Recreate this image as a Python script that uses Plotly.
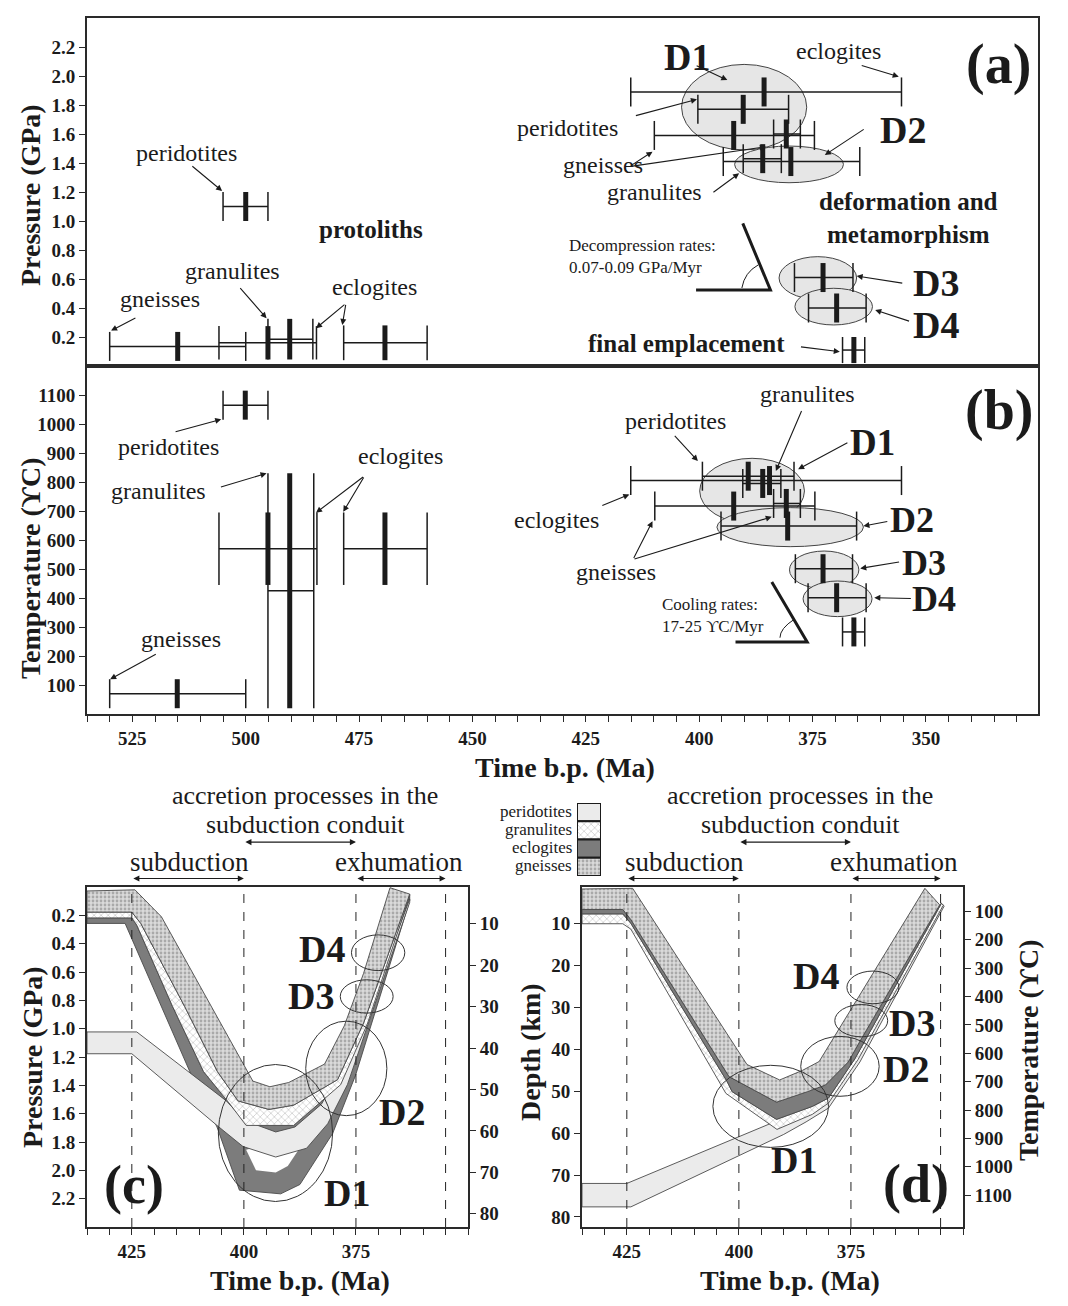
import plotly.graph_objects as go

# page is rendered with an 8px body margin: the figure is laid out in window pixels
OFF = 8
WIN_W, WIN_H = 1068, 1306
FW, FH = WIN_W - 2 * OFF, WIN_H - 2 * OFF
SERIF = "Liberation Serif"
INK = "#1b1b1b"


def X(px):
    return (px - OFF) / FW


def Y(py):
    return 1 - (py - OFF) / FH


# ======================= DATA =======================
# ---- panel (a): pressure (GPa) vs age (Ma) ----
a_rock = ["gneisses", "peridotites", "eclogites", "granulites", "eclogites",
          "eclogites", "peridotites", "gneisses", "gneisses", "granulites",
          "gneisses", "D3", "D4", "final"]
a_age = [515.0, 500.0, 495.1, 490.3, 469.3, 385.7, 390.3, 392.4, 380.8, 386.0, 379.8, 372.7, 369.7, 365.9]
a_age_old = [530.0, 505.0, 505.9, 495.1, 478.4, 415.1, 400.3, 409.9, 383.6, 390.3, 394.7, 379.0, 375.9, 368.4]
a_age_young = [500.0, 495.1, 484.4, 485.2, 460.0, 355.4, 380.3, 374.6, 377.7, 381.9, 364.6, 366.1, 363.2, 363.5]
a_pressure = [0.135, 1.10, 0.16, 0.185, 0.16, 1.89, 1.77, 1.59, 1.60, 1.43, 1.41, 0.61, 0.40, 0.11]
a_pressure_err = [0.10, 0.10, 0.115, 0.14, 0.12, 0.10, 0.10, 0.10, 0.10, 0.10, 0.10, 0.10, 0.10, 0.09]

# ---- panel (b): temperature (C) vs age (Ma) ----
b_rock = ["gneisses", "peridotites", "eclogites", "granulites", "eclogites",
          "eclogites", "peridotites", "gneisses", "gneisses", "granulites",
          "gneisses", "D3", "D4", "final"]
b_age = [515.1, 500.1, 495.1, 490.3, 469.3, 384.5, 389.2, 392.4, 380.8, 386.0, 380.5, 372.7, 369.7, 365.9]
b_age_old = [530.0, 505.0, 505.9, 495.1, 478.4, 415.1, 399.3, 409.8, 383.6, 390.4, 395.2, 378.8, 376.0, 368.4]
b_age_young = [500.0, 495.1, 484.3, 485.0, 460.0, 355.4, 379.1, 374.5, 377.7, 382.0, 365.3, 366.2, 363.2, 363.5]
b_temp = [70, 1065, 570, 425, 570, 805, 820, 717, 726, 795, 648, 501, 401, 283]
b_temp_err = [50, 50, 125, 405, 125, 50, 50, 50, 50, 50, 50, 50, 50, 50]

# ---- deformation stage envelopes ----
stages = ["D1", "D2", "D3", "D4"]
ea_old = [403.9, 392.2, 382.4, 378.9]
ea_young = [376.3, 368.2, 365.3, 361.8]
ea_lo = [1.49, 1.264, 0.46, 0.283]
ea_hi = [2.08, 1.517, 0.754, 0.536]
eb_old = [399.9, 396.1, 380.1, 377.1]
eb_young = [376.8, 363.8, 364.8, 361.9]
eb_lo = [656.6, 577, 432, 335.8]
eb_hi = [881.7, 711.7, 562, 458.6]
ec_old = [405.7, 386.2, 378.5, 376.0]
ec_young = [380.2, 368.1, 366.7, 364.1]
ec_lo = [1.253, 0.947, 0.655, 0.338]
ec_hi = [2.22, 1.614, 0.89, 0.59]
ed_old = [405.8, 386.2, 378.6, 375.9]
ed_young = [380.0, 368.7, 366.8, 364.3]
ed_lo = [43.8, 36.9, 29.3, 21.3]
ed_hi = [63.4, 51.2, 37.0, 29.1]

# ---- panel (c): P-t paths (GPa) ----
c_gne_top_t = [435, 424.3, 418.4, 398.0, 394.2, 390.0, 382.0, 377.6, 373.3, 367.4]
c_gne_top_p = [0.028, 0.02, 0.21, 1.37, 1.41, 1.38, 1.25, 0.98, 0.61, 0.005]
c_gne_bot_t = [435, 425.0, 423.0, 413.2, 405.9, 401.3, 394.4, 388.9, 379.1, 373.3, 363.0]
c_gne_bot_p = [0.177, 0.177, 0.257, 0.844, 1.303, 1.51, 1.57, 1.54, 1.36, 0.96, 0.05]
c_gra_bot_t = [435, 425.0, 423.9, 415.9, 409.0, 403.1, 399.5, 388.9, 378.4, 372.5, 363.0]
c_gra_bot_p = [0.218, 0.218, 0.269, 0.844, 1.303, 1.533, 1.683, 1.683, 1.395, 0.97, 0.062]
c_ecl_bot_t = [435, 426.5, 411.9, 406.0, 401.0, 391.8, 387.5, 380.2, 375.1, 363.0]
c_ecl_bot_p = [0.257, 0.257, 1.315, 1.694, 2.14, 2.166, 2.10, 1.74, 1.33, 0.097]
c_hole_t = [399.5, 397.3, 392.9, 390.2, 387.8, 392.9]
c_hole_p = [1.855, 2.0, 2.016, 1.97, 1.855, 1.80]
c_per_top_t = [435, 423.9, 403.9, 399.9, 392.9, 388.6, 382.7, 377.6, 372.5, 363.0]
c_per_top_p = [1.023, 1.023, 1.51, 1.648, 1.729, 1.694, 1.533, 1.257, 0.89, 0.085]
c_per_bot_t = [435, 425.0, 406.0, 400.2, 392.9, 386.0, 381.3, 376.9, 363.0]
c_per_bot_p = [1.177, 1.177, 1.683, 1.832, 1.906, 1.844, 1.671, 1.395, 0.108]

# ---- panel (d): depth-t paths (km) ----
d_gne_top_t = [435, 423.7, 398.2, 390.9, 385.8, 382.1, 358.5]
d_gne_top_d = [1.7, 1.55, 43.6, 47.3, 45.0, 42.9, 1.55]
d_gne_bot_t = [435, 425.9, 424.1, 402.2, 391.6, 384.7, 380.7, 375.6, 372.7, 355.2]
d_gne_bot_d = [6.6, 6.6, 9.0, 46.5, 52.6, 50.1, 48.5, 43.0, 37.5, 5.5]
d_ecl_bot_t = [435, 425.9, 424.1, 402.6, 401.5, 391.6, 383.6, 380.0, 374.1, 354.8]
d_ecl_bot_d = [7.65, 7.65, 9.9, 47.7, 50.1, 56.7, 53.6, 51.6, 42.2, 5.1]
d_gra_bot_t = [435, 425.9, 424.1, 402.9, 391.5, 383.6, 380.0, 373.4, 354.4]
d_gra_bot_d = [10.0, 10.0, 11.3, 50.5, 59.1, 55.5, 52.8, 42.4, 5.6]
d_per_top_t = [435, 425.0, 392.5, 385.0, 380.0, 373.4, 354.6]
d_per_top_d = [72.0, 72.0, 57.5, 55.0, 52.2, 42.0, 5.3]
d_per_bot_t = [435, 424.1, 390.0, 385.0, 380.0, 373.0, 354.2]
d_per_bot_d = [77.6, 77.6, 60.3, 57.3, 54.0, 43.0, 5.8]

# ---- tectonic phases ----
phase_names = ["subduction", "accretion", "exhumation"]
phase_start = [425, 400, 375]
phase_end = [400, 375, 355]
phase_bounds = [425, 400, 375, 355]

legend_rocks = ["peridotites", "granulites", "eclogites", "gneisses"]

# ======================= STYLES =======================
STYLE = {
    "peridotites": dict(fillcolor="#ebebeb"),
    "granulites": dict(fillcolor="#ffffff",
                       fillpattern=dict(shape="x", fgcolor="#8f8f8f", bgcolor="#ffffff", size=5, solidity=0.25)),
    "eclogites": dict(fillcolor="#7c7c7c"),
    "gneisses": dict(fillcolor="#d8d8d8",
                     fillpattern=dict(shape=".", fgcolor="#777777", bgcolor="#dadada", size=4, solidity=0.38)),
    "hole": dict(fillcolor="#ffffff"),
}

traces = []


def bars(t, told, tyoung, v, err, xa, ya):
    xs, ys, xk, yk = [], [], [], []
    for i in range(len(t)):
        lo, hi = v[i] - err[i], v[i] + err[i]
        xs += [told[i], tyoung[i], None, told[i], told[i], None, tyoung[i], tyoung[i], None]
        ys += [v[i], v[i], None, lo, hi, None, lo, hi, None]
        xk += [t[i], t[i], None]
        yk += [lo, hi, None]
    traces.append(go.Scatter(x=xs, y=ys, mode="lines", line=dict(color=INK, width=1.5),
                             xaxis=xa, yaxis=ya, hoverinfo="skip", showlegend=False))
    traces.append(go.Scatter(x=xk, y=yk, mode="lines", line=dict(color=INK, width=5),
                             xaxis=xa, yaxis=ya, hoverinfo="skip", showlegend=False))


def band(tt, vt, tb, vb, rock, xa, ya, lw=0.9):
    x = list(tt) + list(reversed(tb)) + [tt[0]]
    y = list(vt) + list(reversed(vb)) + [vt[0]]
    traces.append(go.Scatter(x=x, y=y, mode="lines", fill="toself",
                             line=dict(color="#4a4a4a", width=lw), xaxis=xa, yaxis=ya,
                             hoverinfo="skip", showlegend=False, **STYLE[rock]))


def poly(tx, vy, rock, xa, ya):
    traces.append(go.Scatter(x=list(tx) + [tx[0]], y=list(vy) + [vy[0]], mode="lines", fill="toself",
                             line=dict(color="#ffffff", width=0), xaxis=xa, yaxis=ya,
                             hoverinfo="skip", showlegend=False, **STYLE[rock]))


bars(a_age, a_age_old, a_age_young, a_pressure, a_pressure_err, "x", "y")
bars(b_age, b_age_old, b_age_young, b_temp, b_temp_err, "x2", "y2")

# panel (c)
band(c_gra_bot_t, c_gra_bot_p, c_ecl_bot_t, c_ecl_bot_p, "eclogites", "x3", "y3")
poly(c_hole_t, c_hole_p, "hole", "x3", "y3")
band(c_per_top_t, c_per_top_p, c_per_bot_t, c_per_bot_p, "peridotites", "x3", "y3")
band(c_gne_bot_t, c_gne_bot_p, c_gra_bot_t, c_gra_bot_p, "granulites", "x3", "y3")
band(c_gne_top_t, c_gne_top_p, c_gne_bot_t, c_gne_bot_p, "gneisses", "x3", "y3")
# panel (d)
band(d_per_top_t, d_per_top_d, d_per_bot_t, d_per_bot_d, "peridotites", "x4", "y4")
band(d_ecl_bot_t, d_ecl_bot_d, d_gra_bot_t, d_gra_bot_d, "granulites", "x4", "y4")
band(d_gne_bot_t, d_gne_bot_d, d_ecl_bot_t, d_ecl_bot_d, "eclogites", "x4", "y4")
band(d_gne_top_t, d_gne_top_d, d_gne_bot_t, d_gne_bot_d, "gneisses", "x4", "y4")

# empty traces so that the secondary (right-hand) axes are drawn
traces.append(go.Scatter(x=[None], y=[None], xaxis="x3", yaxis="y5", showlegend=False, hoverinfo="skip"))
traces.append(go.Scatter(x=[None], y=[None], xaxis="x4", yaxis="y6", showlegend=False, hoverinfo="skip"))

# legend boxes
for i, rock in enumerate(legend_rocks):
    r = len(legend_rocks) - 1 - i
    traces.append(go.Scatter(x=[0, 1, 1, 0, 0], y=[r, r, r + 1, r + 1, r], mode="lines", fill="toself",
                             line=dict(color=INK, width=2), xaxis="x5", yaxis="y7",
                             hoverinfo="skip", showlegend=False, **STYLE[rock]))

fig = go.Figure(traces)

# ======================= SHAPES =======================
shapes = []
for i in range(4):
    shapes.append(dict(type="circle", xref="x", yref="y", x0=ea_old[i], x1=ea_young[i], y0=ea_lo[i], y1=ea_hi[i],
                       fillcolor="#e6e6e6", line=dict(color="#444", width=1), layer="below"))
    shapes.append(dict(type="circle", xref="x2", yref="y2", x0=eb_old[i], x1=eb_young[i], y0=eb_lo[i], y1=eb_hi[i],
                       fillcolor="#e6e6e6", line=dict(color="#444", width=1), layer="below"))
    shapes.append(dict(type="circle", xref="x3", yref="y3", x0=ec_old[i], x1=ec_young[i], y0=ec_lo[i], y1=ec_hi[i],
                       line=dict(color="#333", width=1), layer="above"))
    shapes.append(dict(type="circle", xref="x4", yref="y4", x0=ed_old[i], x1=ed_young[i], y0=ed_lo[i], y1=ed_hi[i],
                       line=dict(color="#333", width=1), layer="above"))
for t in phase_bounds:
    for xa, ya in (("x3", "y3"), ("x4", "y4")):
        shapes.append(dict(type="line", xref=xa, yref=ya + " domain", x0=t, x1=t, y0=0, y1=1,
                           line=dict(color="#222", width=1, dash="dash"), layer="above"))
# rate glyphs
shapes.append(dict(type="path", xref="x", yref="y", path="M 400.7,0.524 L 384.3,0.524 L 390.4,0.984",
                   line=dict(color=INK, width=3)))
shapes.append(dict(type="path", xref="x", yref="y", path="M 390.6,0.538 Q 390.0,0.646 387.0,0.697",
                   line=dict(color=INK, width=1)))
shapes.append(dict(type="path", xref="x2", yref="y2", path="M 392.0,248 L 376.2,248 L 384.0,455",
                   line=dict(color=INK, width=3)))
shapes.append(dict(type="path", xref="x2", yref="y2", path="M 382.2,263 Q 382.2,295 379.0,327",
                   line=dict(color=INK, width=1)))

# ======================= ANNOTATIONS =======================
ann = []


def txt(text, x, y, xref, yref, size, bold=False, **kw):
    d = dict(text=("<b>%s</b>" % text) if bold else text, x=x, y=y, xref=xref, yref=yref,
             showarrow=False, xanchor="center", yanchor="middle",
             font=dict(family=SERIF, size=size, color=INK))
    d.update(kw)
    ann.append(d)


def arr(tail, head, xref, yref):
    ann.append(dict(x=head[0], y=head[1], ax=tail[0], ay=tail[1], xref=xref, yref=yref,
                    axref=xref, ayref=yref, text="", showarrow=True, arrowhead=2,
                    arrowsize=1.1, arrowwidth=1.1, arrowcolor=INK))


# panel (a) labels
for s, t, v, sz, b in [
    ("D1", 402.6, 2.13, 38, True), ("eclogites", 369.3, 2.17, 24, False), ("(a)", 334.0, 2.08, 56, True),
    ("peridotites", 429.0, 1.64, 24, False), ("gneisses", 421.2, 1.386, 24, False),
    ("granulites", 409.8, 1.2, 24, False), ("D2", 355.0, 1.63, 38, True),
    ("deformation and<br>metamorphism", 353.9, 1.024, 25, True),
    ("D3", 347.7, 0.57, 38, True), ("D4", 347.7, 0.283, 38, True),
    ("final emplacement", 402.9, 0.152, 25, True), ("protoliths", 472.4, 0.94, 25, True),
    ("peridotites", 513.0, 1.469, 24, False), ("granulites", 503.0, 0.655, 24, False),
    ("gneisses", 518.8, 0.462, 24, False), ("eclogites", 471.5, 0.545, 24, False)]:
    txt(s, t, v, "x", "y", sz, b)
txt("Decompression rates:<br>0.07-0.09 GPa/Myr", 429.2, 0.752, "x", "y", 17, xanchor="left", align="left")

for tail, head in [((512.1, 1.386), (505.2, 1.207)), ((524.0, 0.336), (529.7, 0.244)),
                   ((501.5, 0.547), (495.4, 0.329)), ((477.9, 0.432), (484.5, 0.26)),
                   ((477.9, 0.432), (478.7, 0.283)), ((400.9, 2.076), (393.8, 1.972)),
                   ((364.5, 2.076), (356.0, 1.995)), ((414.3, 1.724), (400.5, 1.839)),
                   ((415.4, 1.375), (410.3, 1.478)), ((415.4, 1.375), (385.3, 1.512)),
                   ((397.2, 1.191), (391.2, 1.329)), ((363.4, 1.639), (372.3, 1.455)),
                   ((354.9, 0.57), (365.3, 0.621)), ((353.4, 0.306), (361.2, 0.386)),
                   ((377.9, 0.133), (369.0, 0.099))]:
    arr(tail, head, "x", "y")

# panel (b) labels
for s, t, v, sz, b in [
    ("(b)", 334.0, 1045, 56, True), ("granulites", 376.2, 1102, 24, False),
    ("peridotites", 405.3, 1010, 24, False), ("D1", 361.9, 936, 37, True),
    ("eclogites", 431.4, 668, 24, False), ("gneisses", 418.3, 490, 24, False),
    ("D2", 353.0, 668, 36, True), ("D3", 350.5, 520, 36, True), ("D4", 348.2, 398, 36, True),
    ("peridotites", 517.0, 922, 24, False), ("granulites", 519.2, 768, 24, False),
    ("eclogites", 465.8, 889, 24, False), ("gneisses", 514.3, 257, 24, False)]:
    txt(s, t, v, "x2", "y2", sz, b)
txt("Cooling rates:<br>17-25 ϒC/Myr", 408.7, 340, "x2", "y2", 17, xanchor="left", align="left")

for tail, head in [((515.8, 972), (505.4, 1016)), ((505.8, 781), (495.4, 830)),
                   ((473.8, 821), (484.5, 694)), ((473.8, 821), (478.5, 697)),
                   ((519.5, 209), (529.9, 120)), ((367.0, 938), (378.2, 844)),
                   ((377.3, 1050), (383.1, 838)), ((405.7, 964), (400.3, 872)),
                   ((421.7, 717), (415.4, 757)), ((414.6, 533), (410.3, 665)),
                   ((414.6, 533), (384.0, 680)), ((358.2, 665), (363.8, 648)),
                   ((355.6, 525), (364.5, 502)), ((353.0, 398), (361.4, 401))]:
    arr(tail, head, "x2", "y2")

# panels (c),(d) labels
for s, t, v, sz, b in [("D4", 382.5, 0.44, 38, True), ("D3", 385.1, 0.77, 38, True),
                       ("D2", 364.7, 1.59, 38, True), ("D1", 377.1, 2.16, 38, True),
                       ("(c)", 424.6, 2.10, 54, True)]:
    txt(s, t, v, "x3", "y3", sz, b)
for s, t, v, sz, b in [("D4", 382.7, 22.5, 38, True), ("D3", 361.4, 33.7, 38, True),
                       ("D2", 362.8, 44.7, 38, True), ("D1", 387.8, 66.4, 38, True),
                       ("(d)", 360.5, 72.1, 54, True)]:
    txt(s, t, v, "x4", "y4", sz, b)

for xa, ya in (("x3", "y3"), ("x4", "y4")):
    dom = ya + " domain"
    txt("accretion processes in the", 386.3, 1.27, xa, dom, 26)
    txt("subduction conduit", 386.3, 1.185, xa, dom, 26)
    txt("subduction", 412.2, 1.073, xa, dom, 27)
    txt("exhumation", 365.4, 1.073, xa, dom, 27)
    for i, name in enumerate(phase_names):
        yy = 1.132 if name == "accretion" else 1.025
        ann.append(dict(x=phase_end[i], y=yy, ax=phase_start[i], ay=yy, xref=xa, yref=dom,
                        axref=xa, ayref=dom, text="", showarrow=True, arrowhead=2, startarrowhead=2,
                        arrowside="end+start", arrowsize=1.1, arrowwidth=1.1, arrowcolor=INK))

# legend labels
for i, rock in enumerate(legend_rocks):
    txt(rock, X(574), Y(811 + 18.3 * i), "paper", "paper", 17, xanchor="right")

# axis titles
txt("Pressure (GPa)", X(30), Y(195), "paper", "paper", 28, True, textangle=-90)
txt("Temperature (ϒC)", X(30), Y(568), "paper", "paper", 28, True, textangle=-90)
txt("Time b.p. (Ma)", X(565), Y(767), "paper", "paper", 28, True)
txt("Pressure (GPa)", X(32), Y(1057), "paper", "paper", 28, True, textangle=-90)
txt("Depth (km)", X(530), Y(1052), "paper", "paper", 28, True, textangle=-90)
txt("Temperature (ϒC)", X(1028), Y(1050), "paper", "paper", 28, True, textangle=-90)
txt("Time b.p. (Ma)", X(300), Y(1280), "paper", "paper", 28, True)
txt("Time b.p. (Ma)", X(790), Y(1280), "paper", "paper", 28, True)

# ======================= AXES =======================
TICKF = dict(family=SERIF, size=19, color=INK, weight="bold")
base = dict(showline=True, linecolor="#2a2a2a", linewidth=2, mirror=True, showgrid=False, zeroline=False,
            ticks="outside", ticklen=6, tickwidth=1.3, tickcolor="#2a2a2a", tickfont=TICKF)
minor5 = dict(tickmode="linear", tick0=350, dtick=5, ticks="outside", ticklen=6, tickwidth=1.1,
              tickcolor="#2a2a2a", showgrid=False)

ab_dom = [X(87), X(1038)]
cd_ydom = [Y(1227), Y(887)]
p_ticks = [round(0.2 * k, 1) for k in range(1, 12)]
t_ticks = list(range(100, 1200, 100))
km_ticks = list(range(10, 90, 10))

fig.update_layout(
    width=FW, height=FH, autosize=False, margin=dict(l=0, r=0, t=0, b=0),
    paper_bgcolor="white", plot_bgcolor="white", showlegend=False,
    shapes=shapes, annotations=ann,
    xaxis=dict(base, domain=ab_dom, range=[535, 325.3], anchor="y", showticklabels=False, ticks=""),
    yaxis=dict(base, domain=[Y(366), Y(18)], range=[0, 2.4], anchor="x",
               tickvals=p_ticks, ticktext=["%.1f" % v for v in p_ticks]),
    xaxis2=dict(base, domain=ab_dom, range=[535, 325.3], anchor="y2", matches="x",
                tickvals=[525, 500, 475, 450, 425, 400, 375, 350], minor=minor5),
    yaxis2=dict(base, domain=[Y(714), Y(366)], range=[0, 1200], anchor="x2", tickvals=t_ticks),
    xaxis3=dict(base, domain=[X(87), X(468)], range=[435, 350], anchor="y3",
                tickvals=[425, 400, 375], minor=minor5),
    yaxis3=dict(base, domain=cd_ydom, range=[2.4, 0], anchor="x3",
                tickvals=p_ticks, ticktext=["%.1f" % v for v in p_ticks]),
    yaxis5=dict(base, overlaying="y3", side="right", anchor="x3", range=[83.2, 1.13], tickvals=km_ticks,
                mirror=False),
    xaxis4=dict(base, domain=[X(582), X(963)], range=[435, 350], anchor="y4",
                tickvals=[425, 400, 375], minor=minor5),
    yaxis4=dict(base, domain=cd_ydom, range=[82.4, 1.23], anchor="x4", tickvals=km_ticks),
    yaxis6=dict(base, overlaying="y4", side="right", anchor="x4", range=[1212, 14], tickvals=t_ticks,
                mirror=False),
    xaxis5=dict(domain=[X(577), X(601)], range=[0, 1], visible=False, anchor="y7"),
    yaxis7=dict(domain=[Y(876), Y(803)], range=[0, 4], visible=False, anchor="x5"),
)

fig.write_html("out.html")
